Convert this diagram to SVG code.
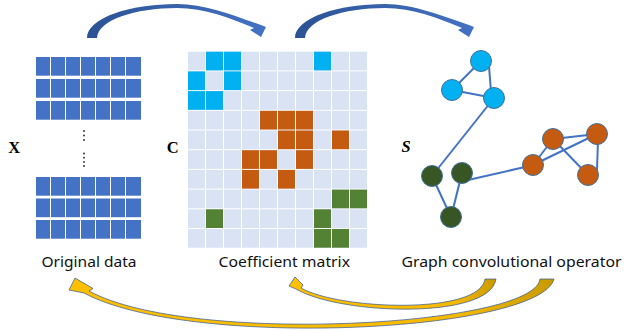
<svg xmlns="http://www.w3.org/2000/svg" width="624" height="330" viewBox="0 0 624 330">
<defs>
<style>
.row{fill:#4472C4}
.sep{stroke:#fff;stroke-width:1;fill:none}
.bg{fill:#DAE3F3}
.cy{fill:#00B0F0}
.or{fill:#C55A11}
.gr{fill:#548235}
.edge{stroke:#4472C4;stroke-width:2;fill:none}
.nc{fill:#00B0F0;stroke:#41719C;stroke-width:1}
.ng{fill:#375623;stroke:#41719C;stroke-width:1}
.no{fill:#C55A11;stroke:#41719C;stroke-width:1}
.lbl{font-family:"Noto Sans","Liberation Sans",sans-serif;font-size:15px;fill:#111}
.sym{font-family:"Liberation Serif",serif;font-weight:bold;font-size:16.5px;fill:#000}
.dot{fill:#222}
.ya{stroke:#2F5597;stroke-width:0.7;stroke-linejoin:round}
</style>
<linearGradient id="blueG" x1="0" y1="0" x2="1" y2="0">
<stop offset="0" stop-color="#2B5294"/>
<stop offset="1" stop-color="#4472C4"/>
</linearGradient>
<linearGradient id="goldG" x1="0" y1="0" x2="1" y2="0">
<stop offset="0" stop-color="#FFC000"/>
<stop offset="0.8" stop-color="#F5BA00"/>
<stop offset="1" stop-color="#C99A00"/>
</linearGradient>
<path id="topArrow" d="M87,38 C87,18 130,4 177,4 C205,4 235,16 261,25 L266,27 L261,37 L250,30 L254,28 C230,18 205,8 177,8 C135,8 98,20 97,38 Z"/>
</defs>

<g id="original-data">
<rect class="row" x="36" y="57" width="105" height="18.7"/>
<rect class="row" x="36" y="79" width="105" height="18.7"/>
<rect class="row" x="36" y="101" width="105" height="18.7"/>
<rect class="row" x="36" y="177" width="105" height="18.7"/>
<rect class="row" x="36" y="198.5" width="105" height="18.7"/>
<rect class="row" x="36" y="220" width="105" height="18.7"/>
<path class="sep" d="M50.5,56V240M65.5,56V240M80.5,56V240M95.5,56V240M110.5,56V240M125.5,56V240"/>
<circle class="dot" cx="84" cy="131" r="0.9"/>
<circle class="dot" cx="84" cy="135.5" r="0.9"/>
<circle class="dot" cx="84" cy="140" r="0.9"/>
<circle class="dot" cx="84" cy="153.5" r="0.9"/>
<circle class="dot" cx="84" cy="157.7" r="0.9"/>
<circle class="dot" cx="84" cy="161.9" r="0.9"/>
<circle class="dot" cx="84" cy="166" r="0.9"/>
<text class="sym" x="8.3" y="152.7">X</text>
<text class="lbl" x="41.5" y="267" textLength="95" lengthAdjust="spacingAndGlyphs">Original data</text>
</g>

<g id="coefficient-matrix">
<rect class="bg" x="188" y="51.7" width="179" height="196"/>
<path class="sep" d="M188,70.9H368M188,90.6H368M188,110.3H368M188,130H368M188,149.7H368M188,169.4H368M188,189.1H368M188,208.8H368M188,228.5H368M205.5,51V249M223.5,51V249M241.5,51V249M259.5,51V249M277.5,51V249M295.5,51V249M313.5,51V249M331.5,51V249M349.5,51V249"/>
<rect class="cy" x="206" y="51.7" width="17" height="18.7"/>
<rect class="cy" x="224" y="51.7" width="17" height="18.7"/>
<rect class="cy" x="314" y="51.7" width="17" height="18.7"/>
<rect class="cy" x="188" y="71.4" width="17" height="18.7"/>
<rect class="cy" x="224" y="71.4" width="17" height="18.7"/>
<rect class="cy" x="188" y="91.1" width="17" height="18.7"/>
<rect class="cy" x="206" y="91.1" width="17" height="18.7"/>
<rect class="or" x="260" y="110.8" width="17" height="18.7"/>
<rect class="or" x="278" y="110.8" width="17" height="18.7"/>
<rect class="or" x="296" y="110.8" width="17" height="18.7"/>
<rect class="or" x="278" y="130.5" width="17" height="18.7"/>
<rect class="or" x="296" y="130.5" width="17" height="18.7"/>
<rect class="or" x="332" y="130.5" width="17" height="18.7"/>
<rect class="or" x="242" y="150.2" width="17" height="18.7"/>
<rect class="or" x="260" y="150.2" width="17" height="18.7"/>
<rect class="or" x="296" y="150.2" width="17" height="18.7"/>
<rect class="or" x="242" y="169.9" width="17" height="18.7"/>
<rect class="or" x="278" y="169.9" width="17" height="18.7"/>
<rect class="gr" x="332" y="189.6" width="17" height="18.7"/>
<rect class="gr" x="350" y="189.6" width="17" height="18.7"/>
<rect class="gr" x="206" y="209.3" width="17" height="18.7"/>
<rect class="gr" x="314" y="209.3" width="17" height="18.7"/>
<rect class="gr" x="314" y="229" width="17" height="18.7"/>
<rect class="gr" x="332" y="229" width="17" height="18.7"/>
<text class="sym" x="166.7" y="152.7">C</text>
<text class="lbl" x="218.5" y="267" textLength="131.5" lengthAdjust="spacingAndGlyphs">Coefficient matrix</text>
</g>

<g id="graph-operator">
<g id="graph-edges">
<line class="edge" x1="481" y1="61" x2="452" y2="90"/>
<line class="edge" x1="489" y1="66" x2="491" y2="92"/>
<line class="edge" x1="452" y1="90" x2="494" y2="98"/>
<line class="edge" x1="494" y1="98" x2="432" y2="176"/>
<line class="edge" x1="432" y1="176" x2="451" y2="217"/>
<line class="edge" x1="462" y1="173" x2="451" y2="217"/>
<line class="edge" x1="468" y1="180" x2="525" y2="167"/>
<line class="edge" x1="533" y1="165" x2="553" y2="139"/>
<line class="edge" x1="533" y1="165" x2="597" y2="134"/>
<line class="edge" x1="553" y1="139" x2="597" y2="134"/>
<line class="edge" x1="553" y1="139" x2="588" y2="175"/>
<line class="edge" x1="598" y1="140" x2="597" y2="170"/>
</g>
<g id="node-c1"><circle class="nc" cx="481" cy="61" r="10.5"/></g>
<g id="node-c2"><circle class="nc" cx="452" cy="90" r="10.5"/></g>
<g id="node-c3"><circle class="nc" cx="494" cy="98" r="10.5"/></g>
<g id="node-g1"><circle class="ng" cx="432" cy="176" r="10.5"/></g>
<g id="node-g2"><circle class="ng" cx="462" cy="173" r="10.5"/></g>
<g id="node-g3"><circle class="ng" cx="451" cy="217" r="10.5"/></g>
<g id="node-o1"><circle class="no" cx="533" cy="165" r="10.5"/></g>
<g id="node-o2"><circle class="no" cx="553" cy="139" r="10.5"/></g>
<g id="node-o3"><circle class="no" cx="597" cy="134" r="10.5"/></g>
<g id="node-o4"><circle class="no" cx="588" cy="175" r="10.5"/></g>
<text class="sym" x="401.5" y="151.7" font-style="italic">S</text>
<text class="lbl" x="401.5" y="267" textLength="220" lengthAdjust="spacingAndGlyphs">Graph convolutional operator</text>
</g>

<g id="connectors">
<use href="#topArrow" fill="url(#blueG)"/>
<use href="#topArrow" fill="url(#blueG)" transform="translate(208,0)"/>
<path class="ya" fill="url(#goldG)" d="M75,278 L93,288.5 L89,291 C190,346 535,326 540,279 L554,279 C540,332 190,350 84,293 L69,290 Z"/>
<path class="ya" fill="url(#goldG)" d="M295,277 L303,285 L301,288 C340,310 480,315 485,279 L496,279 C490,320 340,315 296,289 L289,286 Z"/>
</g>
</svg>
